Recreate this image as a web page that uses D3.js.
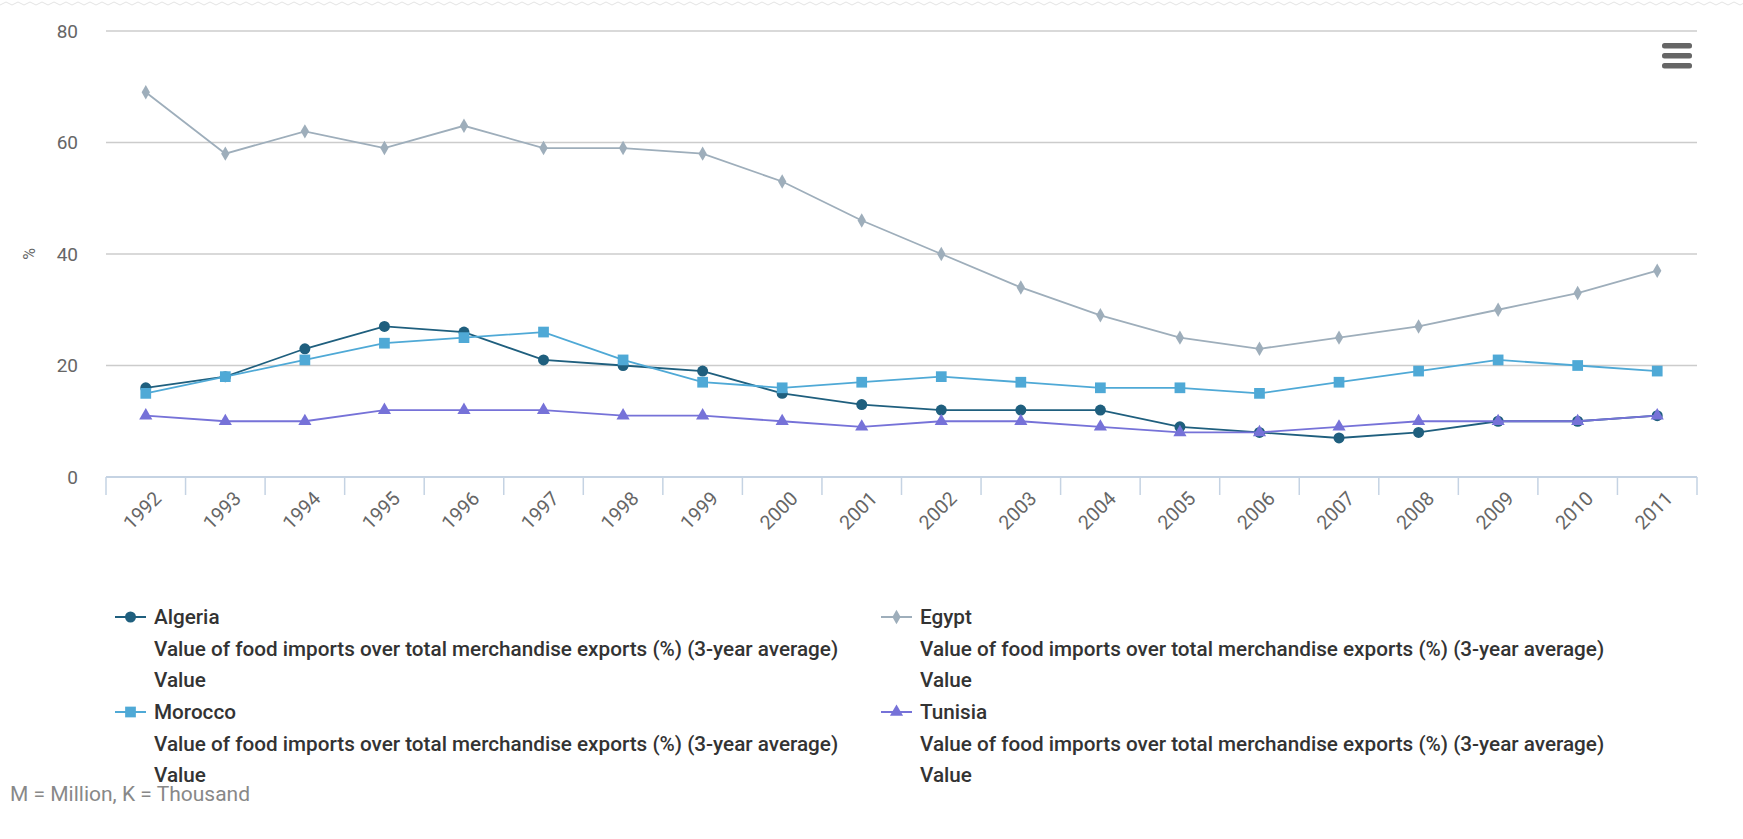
<!DOCTYPE html>
<html>
<head>
<meta charset="utf-8">
<script src="https://cdn.jsdelivr.net/npm/d3@7"></script>
<style>
body{margin:0;background:#fff;font-family:Roboto,"Open Sans",sans-serif}
.grid{stroke:#cccccc;stroke-width:1.5}
.axisline{stroke:#c5d3e3;stroke-width:2}
.tick{stroke:#c5d3e3;stroke-width:1.5}
.ylab{fill:#666;font-size:19px}
.xlab{fill:#666;font-size:19.5px}
.leg{fill:#333;font-size:20.7px;font-weight:500}
.note{fill:#888;font-size:21px}
</style>
</head>
<body>
<div id="chart"></div>
<script>
var years=['1992','1993','1994','1995','1996','1997','1998','1999','2000','2001','2002','2003','2004','2005','2006','2007','2008','2009','2010','2011']
var algeria=[16,18,23,27,26,21,20,19,15,13,12,12,12,9,8,7,8,10,10,11]
var egypt=[69,58,62,59,63,59,59,58,53,46,40,34,29,25,23,25,27,30,33,37]
var morocco=[15,18,21,24,25,26,21,17,16,17,18,17,16,16,15,17,19,21,20,19]
var tunisia=[11,10,10,12,12,12,11,11,10,9,10,10,9,8,8,9,10,10,10,11]
var yTicks=[0,20,40,60,80]
var legendSub='Value of food imports over total merchandise exports (%) (3-year average)'

var series=[
    {name:'Algeria',values:algeria,color:'#1f5f7e',sym:'circle',col:0,row:0},
    {name:'Egypt',values:egypt,color:'#9eaebb',sym:'diamond',col:1,row:0},
    {name:'Morocco',values:morocco,color:'#4fa9d6',sym:'square',col:0,row:1},
    {name:'Tunisia',values:tunisia,color:'#7672d8',sym:'triangle',col:1,row:1}
]

var W=1743,H=839
var pLeft=106,pRight=1697,pTop=31,pBottom=477

var svg=d3.select('#chart').append('svg')
    .attr('width',W)
    .attr('height',H)

// torn paper edge at the top
var zig=d3.range(0,W+6,6).map(function(d,i){return [d,i%2?2:5]})
svg.append('path')
    .attr('d',d3.line()(zig))
    .attr('fill','none')
    .attr('stroke','#e4e4e4')
    .attr('stroke-width',1)

var x=d3.scaleBand().domain(years).range([pLeft,pRight])
var y=d3.scaleLinear().domain([0,80]).range([pBottom,pTop])

function cx(i){return x(years[i])+x.bandwidth()/2}

// grid
svg.append('g').selectAll('line')
    .data(yTicks.filter(function(d){return d>0}))
    .enter().append('line')
    .attr('class','grid')
    .attr('x1',pLeft).attr('x2',pRight)
    .attr('y1',function(d){return y(d)}).attr('y2',function(d){return y(d)})

svg.append('g').selectAll('text')
    .data(yTicks)
    .enter().append('text')
    .attr('class','ylab')
    .attr('x',78)
    .attr('y',function(d){return y(d)})
    .attr('dy','0.36em')
    .attr('text-anchor','end')
    .text(function(d){return d})

svg.append('text')
    .attr('transform','translate(35,'+((pTop+pBottom)/2)+') rotate(-90)')
    .attr('text-anchor','middle')
    .attr('fill','#666')
    .attr('font-size','16px')
    .text('%')

// x axis
svg.append('line')
    .attr('class','axisline')
    .attr('x1',pLeft).attr('x2',pRight)
    .attr('y1',pBottom).attr('y2',pBottom)

var bounds=years.map(function(d){return x(d)}).concat([pRight])
svg.append('g').selectAll('line')
    .data(bounds)
    .enter().append('line')
    .attr('class','tick')
    .attr('x1',function(d){return d}).attr('x2',function(d){return d})
    .attr('y1',pBottom).attr('y2',pBottom+18)

svg.append('g').selectAll('text')
    .data(years)
    .enter().append('text')
    .attr('class','xlab')
    .attr('text-anchor','end')
    .attr('transform',function(d){return 'translate('+(x(d)+x.bandwidth()/2+12)+','+(pBottom+18)+') rotate(-45)'})
    .attr('dy','0.35em')
    .text(function(d){return d})

var symbols={circle:d3.symbolCircle,diamond:d3.symbolDiamond,square:d3.symbolSquare,triangle:d3.symbolTriangle}
var sizes={circle:95,diamond:60,square:115,triangle:75}

function symPath(s){return d3.symbol().type(symbols[s]).size(sizes[s])()}

var line=d3.line()
    .x(function(d,i){return cx(i)})
    .y(function(d){return y(d)})

series.forEach(function(s){
    var g=svg.append('g')
    g.append('path')
	.datum(s.values)
	.attr('d',line)
	.attr('fill','none')
	.attr('stroke',s.color)
	.attr('stroke-width',1.8)
    g.selectAll('path.pt')
	.data(s.values)
	.enter().append('path')
	.attr('class','pt')
	.attr('d',symPath(s.sym))
	.attr('fill',s.color)
	.attr('transform',function(d,i){return 'translate('+cx(i)+','+y(d)+')'})
})

// menu icon
svg.append('g').selectAll('rect')
    .data([0,1,2])
    .enter().append('rect')
    .attr('x',1662).attr('y',function(d){return 43+d*10})
    .attr('width',30).attr('height',5.5).attr('rx',2.5)
    .attr('fill','#666')

// legend
var colX=[115,881],rowY=[617,712],step=31.5
series.forEach(function(s){
    var lx=colX[s.col],ly=rowY[s.row]
    var g=svg.append('g').attr('transform','translate('+lx+','+ly+')')
    g.append('line')
	.attr('x1',0).attr('x2',31).attr('y1',0).attr('y2',0)
	.attr('stroke',s.color).attr('stroke-width',2)
    g.append('path')
	.attr('d',symPath(s.sym))
	.attr('fill',s.color)
	.attr('transform','translate(15.5,0)')
    var lines=[s.name,legendSub,'Value']
    g.selectAll('text')
	.data(lines)
	.enter().append('text')
	.attr('class','leg')
	.attr('x',39)
	.attr('y',function(d,i){return i*step})
	.attr('dy','0.36em')
	.text(function(d){return d})
})

svg.append('text')
    .attr('class','note')
    .attr('x',10).attr('y',801)
    .text('M = Million, K = Thousand')
</script>
</body>
</html>
